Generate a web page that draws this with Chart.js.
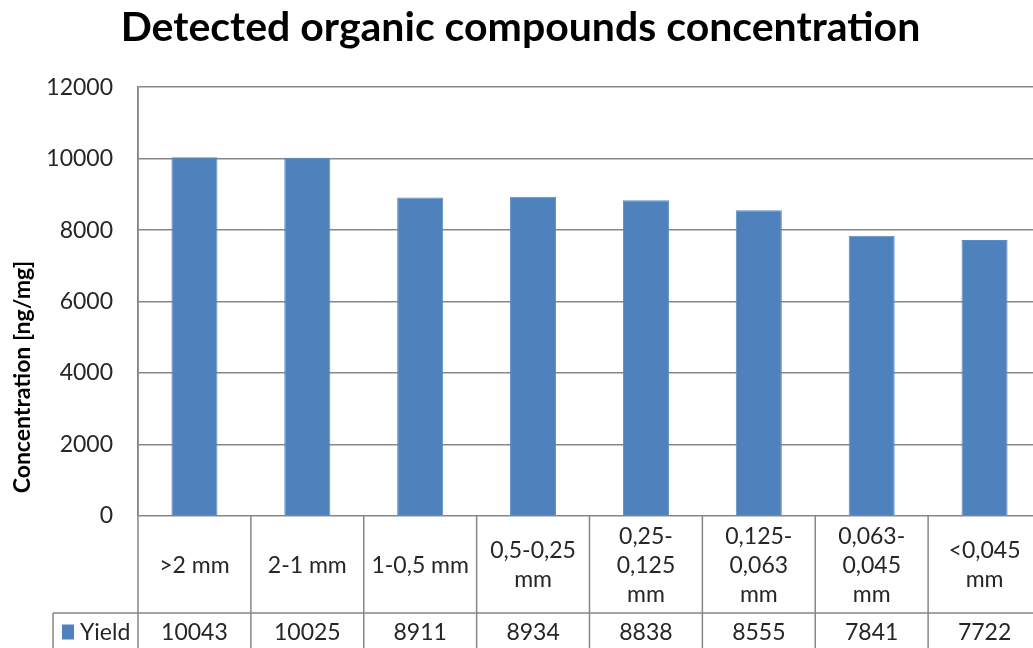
<!DOCTYPE html>
<html>
<head>
<meta charset="utf-8">
<script src="https://cdn.jsdelivr.net/npm/chart.js@4.4.0/dist/chart.umd.min.js"></script>
<style>
  html, body { margin: 0; padding: 0; background: #fff; overflow: hidden; }
  canvas { display: block; }
</style>
</head>
<body>
<canvas id="yieldChart" width="1041" height="648"></canvas>
<script>
const categories = [
    ['>2 mm'],
    ['2-1 mm'],
    ['1-0,5 mm'],
    ['0,5-0,25', 'mm'],
    ['0,25-', '0,125', 'mm'],
    ['0,125-', '0,063', 'mm'],
    ['0,063-', '0,045', 'mm'],
    ['<0,045', 'mm']
];
const yieldValues = [10043, 10025, 8911, 8934, 8838, 8555, 7841, 7722];
const yTicks = [0, 2000, 4000, 6000, 8000, 10000, 12000];

const FONT = 'Lato, "Open Sans", sans-serif';
const BAR_COLOR = '#4f81bd';
const LINE_COLOR = '#878787';
const TEXT_COLOR = '#262626';

// draws the data table under the plot plus the rotated axis title
const dataTable = {
    id: 'dataTable',
    afterDraw(chart) {
        const ctx = chart.ctx;
        const x = chart.scales.x;
        const area = chart.chartArea;
        const step = x.getPixelForValue(1) - x.getPixelForValue(0);
        const tableTop = area.bottom;
        const rowY = 613;
        const bottom = chart.height;
        const legendLeft = 53;

        ctx.save();
        ctx.strokeStyle = LINE_COLOR;
        ctx.lineWidth = 1.5;
        ctx.beginPath();
        // left border of the plot, running down through the table
        ctx.moveTo(area.left, area.top);
        ctx.lineTo(area.left, bottom);
        // separator between the category row and the value row
        ctx.moveTo(legendLeft, rowY);
        ctx.lineTo(area.right, rowY);
        ctx.moveTo(legendLeft, rowY);
        ctx.lineTo(legendLeft, bottom);
        for (let i = 0; i < categories.length; i++) {
            const edge = x.getPixelForValue(i) + step / 2;
            ctx.moveTo(edge, tableTop);
            ctx.lineTo(edge, bottom);
        }
        ctx.stroke();

        ctx.fillStyle = TEXT_COLOR;
        ctx.font = '23px ' + FONT;
        ctx.textAlign = 'center';
        ctx.textBaseline = 'middle';
        const lineH = 29;
        const catMid = (tableTop + rowY) / 2 + 1;
        categories.forEach((lines, i) => {
            const cx = x.getPixelForValue(i);
            const y0 = catMid - (lines.length - 1) * lineH / 2;
            lines.forEach((t, j) => ctx.fillText(t, cx, y0 + j * lineH));
        });
        const valMid = (rowY + bottom) / 2 + 2;
        yieldValues.forEach((v, i) => {
            ctx.fillText(String(v), x.getPixelForValue(i), valMid);
        });

        // legend key for the series row
        ctx.fillStyle = BAR_COLOR;
        ctx.fillRect(62, valMid - 8, 12, 15);
        ctx.fillStyle = TEXT_COLOR;
        ctx.textAlign = 'left';
        ctx.fillText(chart.data.datasets[0].label, 80, valMid);

        // vertical axis title
        ctx.translate(23, 377);
        ctx.rotate(-Math.PI / 2);
        ctx.textAlign = 'center';
        ctx.font = 'bold 23px ' + FONT;
        ctx.fillStyle = '#000';
        ctx.fillText('Concentration [ng/mg]', 0, 0);
        ctx.restore();
    }
};

new Chart(document.getElementById('yieldChart').getContext('2d'), {
    type: 'bar',
    data: {
        labels: categories,
        datasets: [{
            label: 'Yield',
            data: yieldValues,
            backgroundColor: BAR_COLOR,
            borderColor: '#5b8cc6',
            borderWidth: 1,
            barPercentage: 0.8,
            categoryPercentage: 0.51
        }]
    },
    options: {
        responsive: false,
        animation: false,
        layout: { padding: { top: 0, right: 0, bottom: 132, left: 0 } },
        plugins: {
            legend: { display: false },
            tooltip: { enabled: false },
            title: {
                display: true,
                text: 'Detected organic compounds concentration',
                color: '#000',
                font: { family: FONT, size: 41, weight: 'bold' },
                padding: { top: 3, bottom: 35 }
            }
        },
        scales: {
            x: { display: false },
            y: {
                min: 0,
                max: 12000,
                afterFit(scale) { scale.width = 138; },
                afterBuildTicks(scale) { scale.ticks = yTicks.map(v => ({ value: v })); },
                ticks: {
                    color: TEXT_COLOR,
                    padding: 25,
                    font: { family: FONT, size: 23 },
                    callback: v => String(v)
                },
                grid: { color: LINE_COLOR, lineWidth: 1.5, drawTicks: false },
                border: { display: true, color: LINE_COLOR, width: 1.5 }
            }
        }
    },
    plugins: [dataTable]
});
</script>
</body>
</html>
